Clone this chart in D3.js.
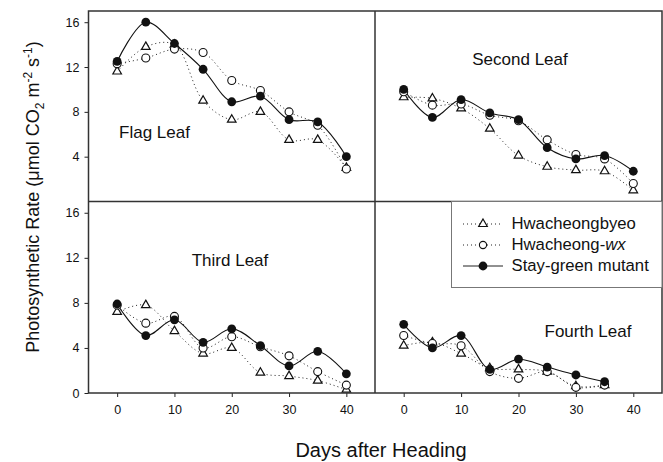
<!DOCTYPE html>
<html>
<head>
<meta charset="utf-8">
<script src="https://cdn.jsdelivr.net/npm/d3@7"></script>
<style>
  body { margin: 0; background: #fff; }
  text { font-family: "Liberation Sans", Arial, sans-serif; fill: #111; }
</style>
</head>
<body>
<div id="chart"></div>
<script>
// Days after heading
var days = [0, 5, 10, 15, 20, 25, 30, 35, 40];
var daysFourth = [0, 5, 10, 15, 20, 25, 30, 35];

// Flag leaf
var flagHb = [11.6, 13.8, 14.0, 9.0, 7.3, 8.0, 5.5, 5.5, 3.0];
var flagWx = [12.3, 12.8, 13.6, 13.3, 10.8, 9.9, 8.0, 6.8, 2.9];
var flagSg = [12.5, 16.0, 14.1, 11.8, 8.9, 9.4, 7.3, 7.1, 4.0];
// Second leaf
var secondHb = [9.3, 9.2, 8.3, 6.5, 4.1, 3.1, 2.8, 2.7, 1.0];
var secondWx = [9.8, 8.6, 8.7, 7.7, 7.2, 5.5, 4.2, 3.8, 1.6];
var secondSg = [10.0, 7.5, 9.1, 7.9, 7.3, 4.8, 3.8, 4.1, 2.7];
// Third leaf
var thirdHb = [7.2, 7.8, 5.5, 3.5, 4.0, 1.8, 1.5, 1.1, 0.3];
var thirdWx = [7.8, 6.2, 6.8, 4.0, 5.0, 4.1, 3.3, 1.9, 0.7];
var thirdSg = [7.9, 5.1, 6.5, 4.5, 5.7, 4.2, 2.4, 3.7, 1.7];
// Fourth leaf
var fourthHb = [4.2, 4.5, 3.5, 2.2, 2.1, 1.9, 0.6, 0.7];
var fourthWx = [5.1, 4.4, 4.2, 1.9, 1.3, 1.9, 0.5, 0.7];
var fourthSg = [6.1, 4.0, 5.1, 2.1, 3.0, 2.3, 1.6, 1.0];

var xTicks = [0, 10, 20, 30, 40];
var yTicksTop = [4, 8, 12, 16];
var yTicksBottom = [0, 4, 8, 12, 16];
var seriesNames = ["Hwacheongbyeo", "Hwacheong-", "Stay-green mutant"];

var W = 663, H = 462;
var L = 88.5, M = 375, R = 662, T = 11, MY = 201.5, B = 393;

var svg = d3.select("#chart").append("svg").attr("width", W).attr("height", H);

var xLeft = d3.scaleLinear().domain([-5, 45]).range([L, M]);
var xRight = d3.scaleLinear().domain([-5, 45]).range([M, R]);
var yTop = d3.scaleLinear().domain([0, 17]).range([MY, T]);
var yBottom = d3.scaleLinear().domain([0, 17]).range([B, MY]);

var panels = [
  {label: "Flag Leaf", x: xLeft, y: yTop, days: days, hb: flagHb, wx: flagWx, sg: flagSg, lx: 154.5, ly: 138},
  {label: "Second Leaf", x: xRight, y: yTop, days: days, hb: secondHb, wx: secondWx, sg: secondSg, lx: 520, ly: 65},
  {label: "Third Leaf", x: xLeft, y: yBottom, days: days, hb: thirdHb, wx: thirdWx, sg: thirdSg, lx: 230, ly: 266},
  {label: "Fourth Leaf", x: xRight, y: yBottom, days: daysFourth, hb: fourthHb, wx: fourthWx, sg: fourthSg, lx: 588, ly: 337}
];

var tri = d3.symbol().type(d3.symbolTriangle).size(32);

panels.forEach(function(p) {
  var g = svg.append("g");
  function line(vals) {
    return d3.line()
      .x(function(d, i) { return p.x(p.days[i]); })
      .y(function(d) { return p.y(d); })
      .curve(d3.curveCatmullRom.alpha(0.5))(vals);
  }
  g.append("path").attr("d", line(p.hb)).attr("fill", "none")
    .attr("stroke", "#222").attr("stroke-width", 1).attr("stroke-dasharray", "1,3");
  g.append("path").attr("d", line(p.wx)).attr("fill", "none")
    .attr("stroke", "#222").attr("stroke-width", 1).attr("stroke-dasharray", "1,3");
  g.append("path").attr("d", line(p.sg)).attr("fill", "none")
    .attr("stroke", "#111").attr("stroke-width", 1.1);

  g.selectAll("path.tri").data(p.hb).enter().append("path")
    .attr("class", "tri")
    .attr("d", tri)
    .attr("transform", function(d, i) { return "translate(" + p.x(p.days[i]) + "," + p.y(d) + ")"; })
    .attr("fill", "#fff").attr("stroke", "#111").attr("stroke-width", 1.2);
  g.selectAll("circle.wx").data(p.wx).enter().append("circle")
    .attr("class", "wx")
    .attr("cx", function(d, i) { return p.x(p.days[i]); })
    .attr("cy", function(d) { return p.y(d); })
    .attr("r", 4)
    .attr("fill", "#fff").attr("stroke", "#111").attr("stroke-width", 1.1);
  g.selectAll("circle.sg").data(p.sg).enter().append("circle")
    .attr("class", "sg")
    .attr("cx", function(d, i) { return p.x(p.days[i]); })
    .attr("cy", function(d) { return p.y(d); })
    .attr("r", 4.4)
    .attr("fill", "#111");

  g.append("text").attr("x", p.lx).attr("y", p.ly).attr("text-anchor", "middle")
    .style("font-size", "17px").text(p.label);
});

// axes
var axL1 = svg.append("g").attr("transform", "translate(" + L + ",0)")
  .call(d3.axisLeft(yTop).tickValues(yTicksTop).tickSize(4).tickPadding(5));
var axL2 = svg.append("g").attr("transform", "translate(" + L + ",0)")
  .call(d3.axisLeft(yBottom).tickValues(yTicksBottom).tickSize(4).tickPadding(5));
var axB1 = svg.append("g").attr("transform", "translate(0," + B + ")")
  .call(d3.axisBottom(xLeft).tickValues(xTicks).tickSize(4).tickPadding(8));
var axB2 = svg.append("g").attr("transform", "translate(0," + B + ")")
  .call(d3.axisBottom(xRight).tickValues(xTicks).tickSize(4).tickPadding(8));
[axL1, axL2, axB1, axB2].forEach(function(a) {
  a.select(".domain").remove();
  a.selectAll("line").attr("stroke", "#222");
  a.selectAll("text").style("font-size", "12.5px").style("font-family", "Liberation Sans, Arial, sans-serif").attr("fill", "#111");
});

// frame and dividers
svg.append("rect").attr("x", L).attr("y", T).attr("width", R - L).attr("height", B - T)
  .attr("fill", "none").attr("stroke", "#333").attr("stroke-width", 1.5);
svg.append("line").attr("x1", M).attr("x2", M).attr("y1", T).attr("y2", B)
  .attr("stroke", "#333").attr("stroke-width", 1.5);
svg.append("line").attr("x1", L).attr("x2", R).attr("y1", MY).attr("y2", MY)
  .attr("stroke", "#333").attr("stroke-width", 1.5);

// legend
var lg = svg.append("g");
lg.append("rect").attr("x", 451.5).attr("y", MY).attr("width", R - 451.5).attr("height", 86)
  .attr("fill", "#fff").attr("stroke", "#777").attr("stroke-width", 1);
var rows = [229, 250, 271];
rows.forEach(function(ry, i) {
  lg.append("line").attr("x1", 463).attr("x2", 503).attr("y1", ry - 5).attr("y2", ry - 5)
    .attr("stroke", "#222").attr("stroke-width", 1)
    .attr("stroke-dasharray", i < 2 ? "1,3" : null);
  if (i === 0) {
    lg.append("path").attr("d", tri).attr("transform", "translate(483," + (ry - 5) + ")")
      .attr("fill", "#fff").attr("stroke", "#111").attr("stroke-width", 1.2);
  } else if (i === 1) {
    lg.append("circle").attr("cx", 483).attr("cy", ry - 5).attr("r", 3.6)
      .attr("fill", "#fff").attr("stroke", "#111").attr("stroke-width", 1.1);
  } else {
    lg.append("circle").attr("cx", 483).attr("cy", ry - 5).attr("r", 4.4).attr("fill", "#111");
  }
  var t = lg.append("text").attr("x", 511.5).attr("y", ry).style("font-size", "16.7px").text(seriesNames[i]);
  if (i === 1) t.append("tspan").style("font-style", "italic").text("wx");
});

// axis titles
svg.append("text").attr("x", 381).attr("y", 457).attr("text-anchor", "middle")
  .style("font-size", "20px").text("Days after Heading");

var yt = svg.append("text").attr("transform", "translate(39,197) rotate(-90)")
  .attr("text-anchor", "middle").style("font-size", "18px");
yt.append("tspan").text("Photosynthetic Rate (\u03bcmol CO");
yt.append("tspan").attr("dy", 5).style("font-size", "12px").text("2");
yt.append("tspan").attr("dy", -5).text(" m");
yt.append("tspan").attr("dy", -7).style("font-size", "12px").text("-2");
yt.append("tspan").attr("dy", 7).text(" s");
yt.append("tspan").attr("dy", -7).style("font-size", "12px").text("-1");
yt.append("tspan").attr("dy", 7).text(")");
</script>
</body>
</html>
